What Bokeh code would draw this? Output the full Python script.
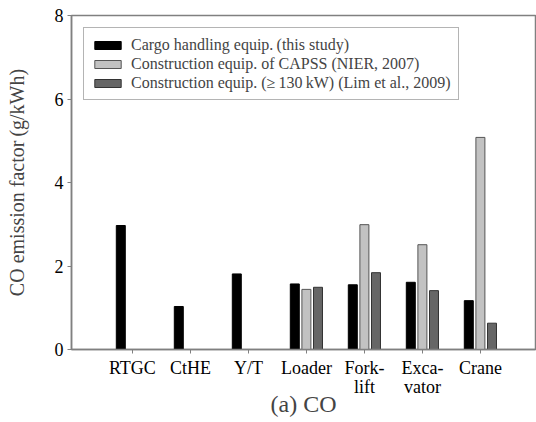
from bokeh.plotting import figure
from bokeh.models import ColumnDataSource, Range1d, FixedTicker, Legend, LegendItem
from bokeh.transform import dodge
from bokeh.embed import file_html
from bokeh.resources import INLINE

categories = ["RTGC", "CtHE", "Y/T", "Loader", "Fork-\nlift", "Exca-\nvator", "Crane"]
cargo = [2.97, 1.03, 1.81, 1.57, 1.55, 1.61, 1.17]
capss = [float("nan"), float("nan"), float("nan"), 1.44, 2.99, 2.51, 5.08]
lim = [float("nan"), float("nan"), float("nan"), 1.49, 1.84, 1.41, 0.63]
y_ticks = [0, 2, 4, 6, 8]

xpos = list(range(1, len(categories) + 1))
src = ColumnDataSource(dict(x=xpos, cargo=cargo, capss=capss, lim=lim))

FONT = "'Times New Roman', 'Liberation Serif', 'DejaVu Serif', serif"
p = figure(width=536, height=422, output_backend="svg", toolbar_location=None,
           x_range=Range1d(-0.05, 7.95), y_range=Range1d(0, 8),
           min_border_left=71, min_border_right=1, min_border_top=15, min_border_bottom=73)
p.background_fill_color = "white"
p.border_fill_color = "white"
p.outline_line_color = "#808080"
p.outline_line_width = 1.5
p.grid.visible = False

bw = 0.155
r1 = p.vbar(x=dodge("x", -0.2), top="cargo", width=bw, source=src,
            fill_color="black", line_color="black", line_width=1)
r2 = p.vbar(x="x", top="capss", width=bw, source=src,
            fill_color="#c2c2c2", line_color="#555555", line_width=1)
r3 = p.vbar(x=dodge("x", 0.2), top="lim", width=bw, source=src,
            fill_color="#666666", line_color="#333333", line_width=1)

xa = p.xaxis[0]
xa.ticker = FixedTicker(ticks=xpos)
xa.major_label_overrides = {i: c for i, c in zip(xpos, categories)}
xa.minor_tick_line_color = None
xa.major_tick_in = 0
xa.major_tick_out = 4
xa.major_label_standoff = 4
xa.major_label_text_font = FONT
xa.major_label_text_font_size = "18px"
xa.major_label_text_line_height = 0.95
xa.major_label_text_color = "black"
xa.axis_label = "(a) CO"
xa.axis_label_text_font = FONT
xa.axis_label_text_font_style = "normal"
xa.axis_label_text_font_size = "24px"
xa.axis_label_text_line_height = 1.0
xa.axis_label_standoff = -9

ya = p.yaxis[0]
ya.ticker = FixedTicker(ticks=y_ticks)
ya.minor_tick_line_color = None
ya.major_tick_in = 0
ya.major_tick_out = 4
ya.major_label_standoff = 4
ya.major_label_text_font = FONT
ya.major_label_text_font_size = "18px"
ya.major_label_text_color = "black"
ya.axis_label = "CO emission factor\u2009(g/kWh)"
ya.axis_label_text_font = FONT
ya.axis_label_text_font_style = "normal"
ya.axis_label_text_font_size = "20px"
ya.axis_label_standoff = 24

for ax in (xa, ya):
    ax.axis_line_color = "#808080"
    ax.axis_line_width = 1.5
    ax.major_tick_line_color = "#808080"

legend = Legend(items=[
    LegendItem(label="Cargo handling equip.\u2009(this study)", renderers=[r1]),
    LegendItem(label="Construction equip. of CAPSS (NIER, 2007)", renderers=[r2]),
    LegendItem(label="Construction equip. (\u2265\u2009130\u2009kW) (Lim et al., 2009)", renderers=[r3]),
], location="top_left")
legend.margin = 12
legend.padding = 7
legend.spacing = 0
legend.glyph_width = 33
legend.glyph_height = 10
legend.label_height = 19
legend.label_standoff = 7
legend.label_text_font = FONT
legend.label_text_font_size = "16px"
legend.border_line_color = "#6a6a6a"
legend.border_line_width = 1.5
legend.background_fill_alpha = 1
p.add_layout(legend)

open("out.html", "w").write(file_html(p, INLINE))
